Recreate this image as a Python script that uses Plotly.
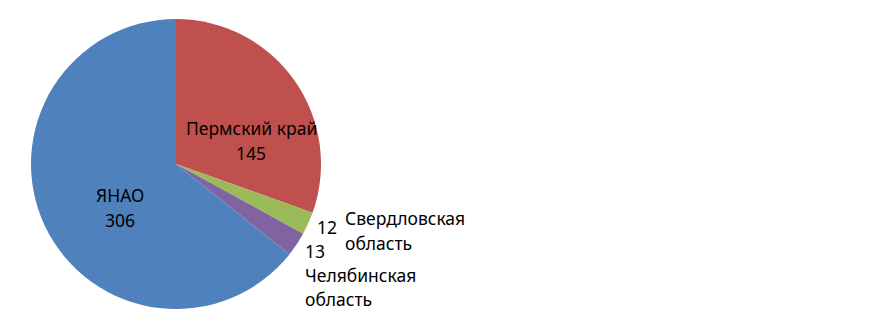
import plotly.graph_objects as go

regions = ["Пермский край", "Свердловская область", "Челябинская область", "ЯНАО"]
values = [145, 12, 13, 306]
colors = ["#C0504D", "#9BBB59", "#8064A2", "#4F81BD"]

W, H = 885, 325
FONT = "Noto Sans"
FS = 17.5

fig = go.Figure(go.Pie(
    labels=regions,
    values=values,
    sort=False,
    direction="clockwise",
    rotation=0,
    marker=dict(colors=colors, line=dict(width=0)),
    textinfo="none",
    hoverinfo="label+value",
    domain=dict(x=[31 / W, 321 / W], y=[(H - 309) / H, (H - 19) / H]),
))

# label lines: (text, x_px, y_px, anchor)
label_lines = [
    ("Пермский край", 251, 128, "center"),
    (str(values[0]), 251, 153, "center"),
    ("ЯНАО", 120, 195, "center"),
    (str(values[3]), 120, 220, "center"),
    (str(values[1]), 316, 227, "left"),
    ("Свердловская", 344, 218, "left"),
    ("область", 344, 243, "left"),
    (str(values[2]), 304, 251, "left"),
    ("Челябинская", 304, 275, "left"),
    ("область", 304, 299, "left"),
]

annotations = [
    dict(text=t, x=x / W, y=1 - y / H, xref="paper", yref="paper",
         xanchor=a, yanchor="middle", showarrow=False, borderpad=0,
         font=dict(family=FONT, size=FS, color="#000000"))
    for t, x, y, a in label_lines
]

fig.update_layout(
    width=W, height=H,
    margin=dict(l=0, r=0, t=0, b=0),
    paper_bgcolor="white",
    plot_bgcolor="white",
    showlegend=False,
    annotations=annotations,
)

fig.write_html("out.html")
